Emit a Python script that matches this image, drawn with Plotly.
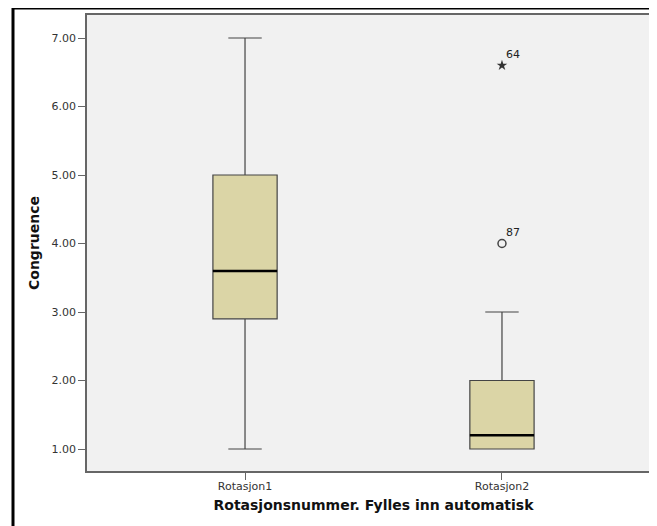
import plotly.graph_objects as go

categories = ["Rotasjon1", "Rotasjon2"]
q1 = [2.9, 1.0]
medians = [3.6, 1.2]
q3 = [5.0, 2.0]
lower_whisker = [1.0, 1.0]
upper_whisker = [7.0, 3.0]

# outliers for Rotasjon2
outlier_values = [4.0]
outlier_ids = ["87"]
extreme_values = [6.6]
extreme_ids = ["64"]

y_ticks = [1, 2, 3, 4, 5, 6, 7]

positions = list(range(len(categories)))
box_w = 0.25
fill = "#DBD5A6"
edge = "#444444"

fig = go.Figure()
for i, cat in enumerate(categories):
    fig.add_trace(go.Box(
        x=[positions[i]], q1=[q1[i]], median=[medians[i]], q3=[q3[i]],
        lowerfence=[lower_whisker[i]], upperfence=[upper_whisker[i]],
        width=box_w, whiskerwidth=0.52, fillcolor=fill,
        line=dict(color=edge, width=1.2), boxpoints=False,
        showlegend=False, hoverinfo="skip", name=cat,
    ))
    fig.add_trace(go.Scatter(
        x=[positions[i] - box_w / 2, positions[i] + box_w / 2],
        y=[medians[i], medians[i]], mode="lines",
        line=dict(color="black", width=2.5), showlegend=False, hoverinfo="skip",
    ))

fig.add_trace(go.Scatter(
    x=[positions[1]] * len(outlier_values), y=outlier_values, mode="markers",
    marker=dict(symbol="circle-open", size=8, color="#444", line=dict(width=1.5)),
    showlegend=False, hoverinfo="skip",
))
fig.add_trace(go.Scatter(
    x=[positions[1]] * len(extreme_values), y=extreme_values, mode="markers",
    marker=dict(symbol="star", size=8, color="#333"),
    showlegend=False, hoverinfo="skip",
))
for v, t in zip(outlier_values + extreme_values, outlier_ids + extreme_ids):
    fig.add_annotation(x=positions[1], y=v, text=t, showarrow=False,
                       xanchor="left", yanchor="middle", xshift=2, yshift=11,
                       font=dict(family="DejaVu Sans", size=11, color="#222"))

# outer frame (plot area 573 x 456 px)
fig.add_shape(type="rect", xref="paper", yref="paper",
              x0=-74 / 573, x1=1.2, y0=-0.3, y1=1 + 7 / 456,
              line=dict(color="black", width=3), fillcolor="rgba(0,0,0,0)", layer="above")

fig.update_layout(
    width=657, height=526,
    margin=dict(l=79, r=5, t=7, b=63),
    paper_bgcolor="white", plot_bgcolor="#F1F1F1",
    font=dict(family="DejaVu Sans", color="#222"),
    xaxis=dict(
        range=[-0.615, 1.615], tickvals=positions, ticktext=categories,
        showgrid=False, zeroline=False, showline=True, mirror=True,
        linecolor="#666", linewidth=1.5, ticks="outside", ticklen=7,
        tickcolor="#666", tickfont=dict(size=11, color="#333"),
        ticklabelstandoff=-3,
        title=dict(text="<b>Rotasjonsnummer. Fylles inn automatisk</b>",
                   font=dict(size=14, color="#111"), standoff=8),
    ),
    yaxis=dict(
        range=[0.679, 7.336], tickvals=y_ticks, tickformat=".2f",
        showgrid=False, zeroline=False, showline=True,
        linecolor="#666", linewidth=1.5, ticks="outside", ticklen=7,
        tickcolor="#666", tickfont=dict(size=11, color="#333"),
        title=dict(text="<b>Congruence</b>",
                   font=dict(size=14, color="#111"), standoff=9),
    ),
)

fig.write_html("out.html")
